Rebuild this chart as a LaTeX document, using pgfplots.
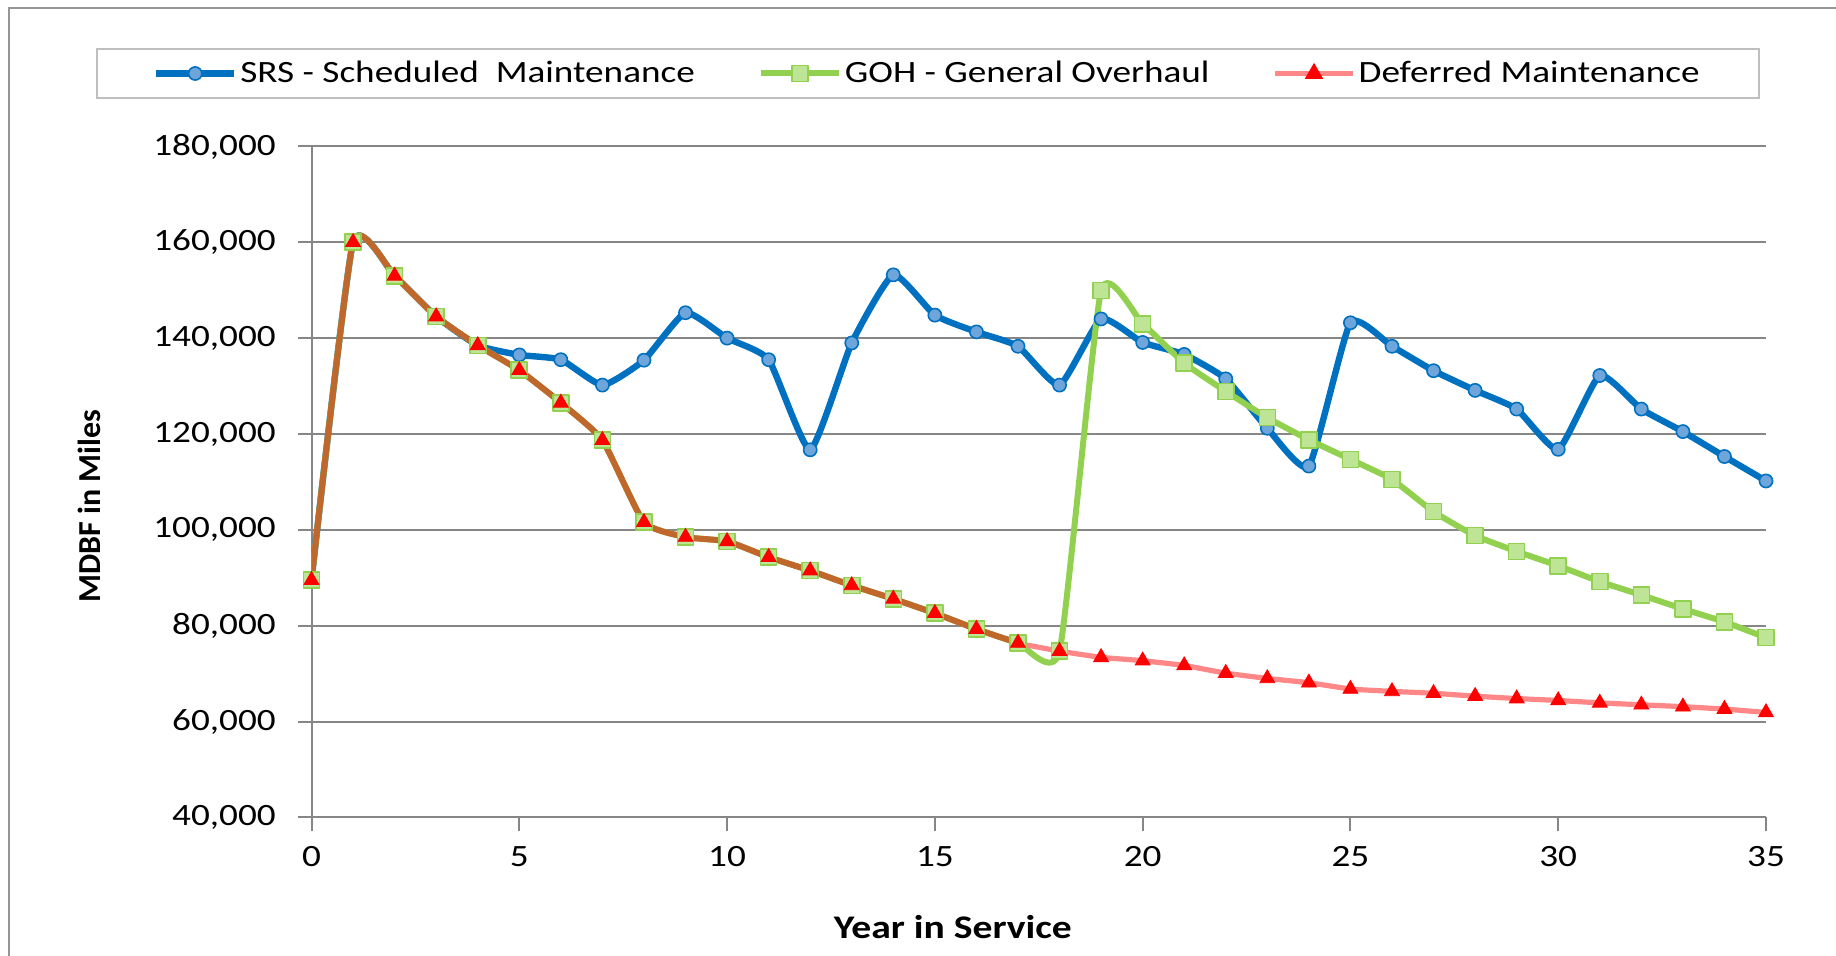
\documentclass[border=0pt]{standalone}
\usepackage{pgfplots}
\pgfplotsset{compat=1.18}
\usepackage{fontspec}
\setmainfont{Carlito}[FakeStretch=1.2]
\newfontfamily\plainfont{Carlito}
\definecolor{srsblue}{RGB}{0,112,192}
\definecolor{srsfill}{RGB}{110,165,218}
\definecolor{gohgreen}{RGB}{146,208,80}
\definecolor{gohfill}{RGB}{190,228,150}
\definecolor{defpink}{RGB}{255,135,135}
\definecolor{defbrown}{RGB}{192,104,44}
\definecolor{gridgray}{RGB}{134,134,134}
\definecolor{legframe}{RGB}{191,191,191}
\definecolor{framegray}{RGB}{150,150,150}
\begin{document}
\begin{tikzpicture}
\useasboundingbox (0,0) rectangle (918pt,-477.5pt);
\draw[framegray, line width=1pt] (4.5pt,-480pt) -- (4.5pt,-4.15pt) -- (920pt,-4.15pt);
\begin{axis}[
  at={(155.75pt,-408.7pt)}, anchor=south west,
  scale only axis, width=727.25pt, height=335.5pt,
  xmin=0, xmax=35, ymin=40000, ymax=180000,
  xtick={0,5,...,35},
  ytick={40000,60000,...,180000},
  scaled y ticks=false,
  /pgf/number format/fixed,
  /pgf/number format/precision=0,
  /pgf/number format/assume math mode=true,
  /pgf/number format/1000 sep={,},
  axis x line*=bottom, axis y line*=left,
  axis line style={draw=gridgray, line width=1pt},
  tick align=outside, major tick length=7pt,
  tick style={gridgray, line width=1pt},
  ymajorgrids, grid style={gridgray, line width=1pt},
  ticklabel style={font=\fontsize{15.5}{18}\selectfont, text=black},
  yticklabel style={inner sep=0pt, xshift=-10.7pt},
  xticklabel style={inner sep=0pt, yshift=-7.3pt},
  xlabel={\textbf{Year in Service}},
  ylabel={\plainfont\bfseries MDBF in Miles},
  x label style={at={(axis description cs:0.441,0)}, anchor=center, yshift=-54.65pt, font=\fontsize{16.5}{19}\selectfont},
  y label style={at={(axis description cs:0,0.464)}, anchor=center, yshift=111.25pt, font=\fontsize{16}{19}\selectfont},
  legend columns=3,
  legend style={at={(0,1)}, anchor=north west, xshift=-107.75pt, yshift=49.2pt,
    draw=legframe, line width=1pt, inner xsep=28pt, inner ysep=4.6pt,
    font=\fontsize{15.5}{18}\selectfont,
    nodes={inner sep=1.5pt},
    /tikz/every even column/.append style={column sep=30pt}},
  legend cell align=left,
  legend image code/.code={\draw[mark repeat=2,mark phase=2,#1] plot coordinates {(0pt,0pt) (19.5pt,0pt) (39pt,0pt)};},
]
% SRS - Scheduled Maintenance
\addplot[srsblue, line width=3.2pt, smooth, tension=0.3, line join=round,
  mark=*, mark size=3.3pt, mark options={draw=srsblue, fill=srsfill, line width=0.8pt}]
coordinates {
(0,89500) (1,160000) (2,153000) (3,144500) (4,138500) (5,136500) (6,135500) (7,130200)
(8,135400) (9,145300) (10,140000) (11,135500) (12,116700) (13,139000) (14,153200)
(15,144800) (16,141300) (17,138300) (18,130200) (19,144000) (20,139100) (21,136600)
(22,131500) (23,121200) (24,113300) (25,143200) (26,138300) (27,133200) (28,129100)
(29,125200) (30,116800) (31,132200) (32,125200) (33,120500) (34,115300) (35,110200)
};
\addlegendentry{SRS - Scheduled\ \ Maintenance}
% GOH - General Overhaul
\addplot[gohgreen, line width=3pt, smooth, tension=0.3, line join=round,
  mark=square*, mark size=4pt, mark options={draw=gohgreen, fill=gohfill, line width=0.8pt}]
coordinates {
(0,89500) (1,160000) (2,153000) (3,144500) (4,138500) (5,133300) (6,126500) (7,118700)
(8,101600) (9,98500) (10,97600) (11,94300) (12,91500) (13,88400) (14,85600) (15,82600)
(16,79300) (17,76400) (18,74700) (19,149900) (20,143000) (21,134800) (22,128900)
(23,123400) (24,118800) (25,114700) (26,110500) (27,103800) (28,98800) (29,95500)
(30,92500) (31,89200) (32,86400) (33,83500) (34,80800) (35,77500)
};
\addlegendentry{GOH - General Overhaul}
% Deferred Maintenance: line
\addplot[defpink, line width=2.6pt, smooth, tension=0.3, line join=round, forget plot]
coordinates {
(0,89500) (1,160000) (2,153000) (3,144500) (4,138500) (5,133300) (6,126500) (7,118700)
(8,101600) (9,98500) (10,97600) (11,94300) (12,91500) (13,88400) (14,85600) (15,82600)
(16,79300) (17,76400) (18,74700) (19,73400) (20,72700) (21,71700) (22,70100) (23,69000)
(24,68100) (25,66800) (26,66300) (27,65900) (28,65300) (29,64800) (30,64400) (31,63900)
(32,63500) (33,63100) (34,62600) (35,61900)
};
% overlap segment where Deferred and GOH coincide
\addplot[defbrown, line width=3pt, smooth, tension=0.3, line join=round, forget plot]
coordinates {
(0,89500) (1,160000) (2,153000) (3,144500) (4,138500) (5,133300) (6,126500) (7,118700)
(8,101600) (9,98500) (10,97600) (11,94300) (12,91500) (13,88400) (14,85600) (15,82600)
(16,79300) (17,76400)
};
% Deferred Maintenance: markers
\addplot[only marks, mark=triangle*, mark size=4.3pt, mark options={draw=red, fill=red},
  legend image code/.code={\draw[defpink, line width=2.6pt] (0pt,0pt) -- (39pt,0pt);
    \path plot[mark=triangle*, mark size=4.3pt, mark options={draw=red, fill=red}] coordinates {(19.5pt,0pt)};}]
coordinates {
(0,89500) (1,160000) (2,153000) (3,144500) (4,138500) (5,133300) (6,126500) (7,118700)
(8,101600) (9,98500) (10,97600) (11,94300) (12,91500) (13,88400) (14,85600) (15,82600)
(16,79300) (17,76400) (18,74700) (19,73400) (20,72700) (21,71700) (22,70100) (23,69000)
(24,68100) (25,66800) (26,66300) (27,65900) (28,65300) (29,64800) (30,64400) (31,63900)
(32,63500) (33,63100) (34,62600) (35,61900)
};
\addlegendentry{Deferred Maintenance}
\end{axis}
\end{tikzpicture}
\end{document}
